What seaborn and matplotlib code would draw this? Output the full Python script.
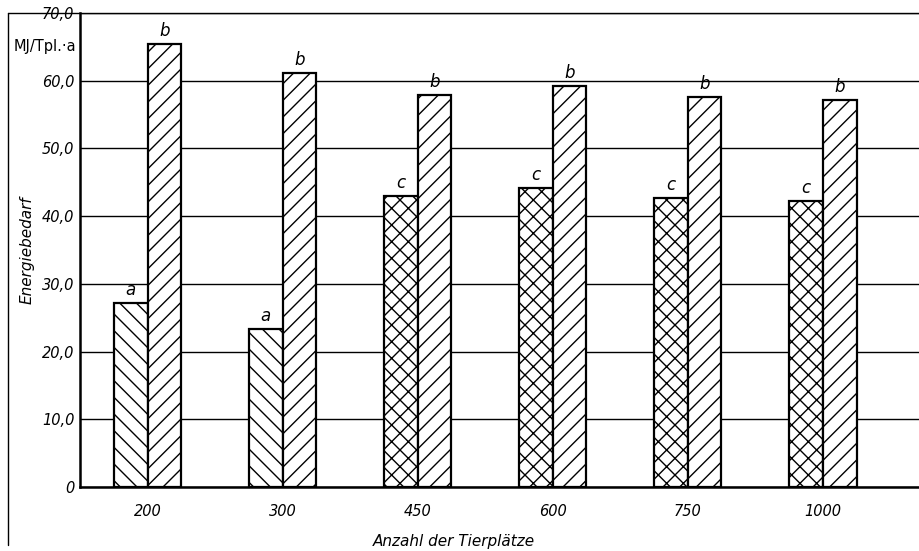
import pandas as pd
import matplotlib.pyplot as plt
import seaborn as sns
from matplotlib.lines import Line2D

# Werte
tierplaetze = ["200", "300", "450", "600", "750", "1000"]
links = [27.2, 23.3, 43.0, 44.2, 42.7, 42.2]
links_buchstabe = ["a", "a", "c", "c", "c", "c"]
rechts = [65.4, 61.2, 57.9, 59.2, 57.6, 57.2]
rechts_buchstabe = ["b", "b", "b", "b", "b", "b"]
y_ticks = [0, 10, 20, 30, 40, 50, 60, 70]
y_labels = ["0", "10,0", "20,0", "30,0", "40,0", "50,0", "60,0", "70,0"]

df = pd.DataFrame({
    "tpl": tierplaetze * 2,
    "seite": ["links"] * 6 + ["rechts"] * 6,
    "wert": links + rechts,
})

sns.set_style("white")
plt.rcParams["font.family"] = ["DejaVu Sans"]
plt.rcParams["hatch.linewidth"] = 1.0
plt.rcParams["text.color"] = "black"
plt.rcParams["axes.labelcolor"] = "black"
plt.rcParams["xtick.color"] = "black"
plt.rcParams["ytick.color"] = "black"

fig = plt.figure(figsize=(9.2, 5.51), dpi=100)
ax = fig.add_axes([80 / 920, 1 - 487 / 551, 840 / 920, 474 / 551])

sns.barplot(data=df, x="tpl", y="wert", hue="seite", order=tierplaetze,
            palette={"links": "white", "rechts": "white"}, width=0.5,
            edgecolor="black", linewidth=1.6, legend=False, ax=ax, zorder=3)

# Schraffuren und Buchstaben
for bar, b in zip(ax.containers[0], links_buchstabe):
    bar.set_hatch("\\\\" if b == "a" else "xx")
for bar in ax.containers[1]:
    bar.set_hatch("//")
for cont, buchst in [(ax.containers[0], links_buchstabe), (ax.containers[1], rechts_buchstabe)]:
    for bar, b in zip(cont, buchst):
        ax.text(bar.get_x() + bar.get_width() / 2, bar.get_height() + 0.6, b,
                ha="center", va="bottom", fontsize=12, style="italic")

ax.set_ylim(0, 70)
ax.set_xlim(-0.5, 5.72)
ax.set_yticks(y_ticks)
ax.set_yticklabels(y_labels, style="italic", fontsize=10.5)
ax.set_xticks(range(len(tierplaetze)))
ax.set_xticklabels(tierplaetze, style="italic", fontsize=10.5)
ax.tick_params(length=0, pad=4)
ax.tick_params(axis="x", pad=12)

ax.grid(axis="y", color="black", linewidth=1.0, zorder=0)
ax.set_axisbelow(True)
ax.spines["right"].set_visible(False)
ax.spines["top"].set_linewidth(1.0)
ax.spines["left"].set_linewidth(1.8)
ax.spines["bottom"].set_linewidth(1.8)
for s in ax.spines.values():
    s.set_color("black")

ax.set_xlabel("")
ax.set_ylabel("Energiebedarf", style="italic", fontsize=11)
ax.yaxis.set_label_coords(-0.054, 0.5)
ax.text(2.27, -0.10, "Anzahl der Tierplätze", transform=ax.get_xaxis_transform(),
        ha="center", va="top", style="italic", fontsize=11)

fig.text(76 / 920, 1 - 46 / 551, "MJ/Tpl.·a", ha="right", va="center", fontsize=10.5)

# Rahmen links und oben
fig.add_artist(Line2D([8 / 920, 8 / 920], [1 - 13 / 551, 1 - 545 / 551], color="black", linewidth=1.0))
fig.add_artist(Line2D([8 / 920, 80 / 920], [1 - 13 / 551, 1 - 13 / 551], color="black", linewidth=1.0))

fig.savefig("out.png", dpi=100)
